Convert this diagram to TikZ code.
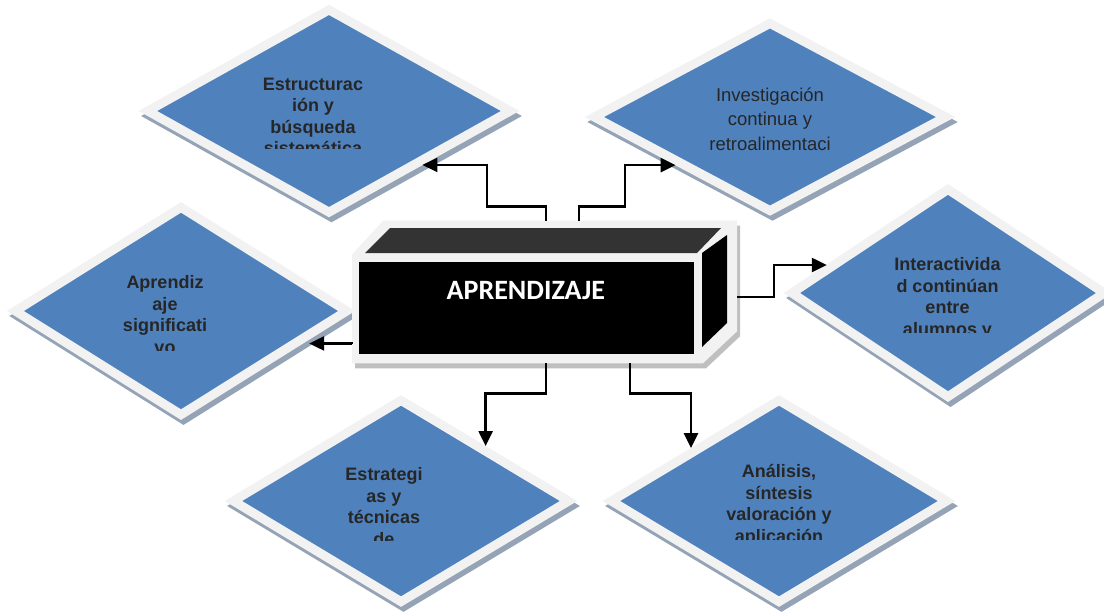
\documentclass[tikz,border=0pt]{standalone}
\usepackage{fontspec}
\setmainfont{Liberation Sans}
\newfontfamily\calibri{Carlito}
\usetikzlibrary{shapes.geometric, arrows.meta}

\definecolor{boxblue}{HTML}{4F81BD}
\definecolor{rimgray}{HTML}{F2F2F2}
\definecolor{rimshadow}{HTML}{95A3B6}
\definecolor{cubeshadow}{HTML}{BFBFBF}
\definecolor{topface}{HTML}{333333}
\definecolor{txtdark}{HTML}{262626}

\begin{document}
\begin{tikzpicture}[x=1pt, y=-1pt,
  idea/.style={shape=diamond, fill=boxblue, draw=rimgray, line width=9pt, inner sep=0pt, preaction={fill=rimshadow, draw=rimshadow, transform canvas={shift={(2.5pt,-5pt)}}}},
  ideatext/.style={font=\bfseries\fontsize{18}{21.5}\selectfont, align=center, text=txtdark, inner sep=0pt, anchor=north},
  link/.style={draw=black, line width=2.5pt, -{Triangle[length=15pt, width=14pt]}}]
\useasboundingbox (0,0) rectangle (1104,611);

% the six ideas
\node[idea, minimum width=366pt, minimum height=206pt] (est) at (329,111) {};
\node[idea, minimum width=355pt, minimum height=191pt] (inv) at (770,117) {};
\node[idea, minimum width=335pt, minimum height=211pt] (sig) at (181,311) {};
\node[idea, minimum width=316pt, minimum height=211pt] (int) at (948,293) {};
\node[idea, minimum width=339pt, minimum height=205pt] (stra) at (401,501) {};
\node[idea, minimum width=339pt, minimum height=205pt] (ana) at (779,501) {};

\begin{scope}
\clip (150,60) rectangle (480,148);
\node[ideatext] (est-t) at (313,77.7) {Estructurac\\ión y\\búsqueda\\sistemática};
\end{scope}
\node[ideatext, font=\fontsize{18.5}{24.6}\selectfont] (inv-t) at (770,87.4) {Investigación\\continua y\\retroalimentaci};
\begin{scope}
\clip (0,260) rectangle (340,350.7);
\node[ideatext] (sig-t) at (165,275.3) {Aprendiz\\aje\\significati\\vo};
\end{scope}
\begin{scope}
\clip (800,240) rectangle (1104,332.7);
\node[ideatext] (int-t) at (947.5,257.7) {Interactivida\\d continúan\\entre\\alumnos y};
\end{scope}
\begin{scope}
\clip (240,450) rectangle (560,540);
\node[ideatext] (stra-t) at (384,467.7) {Estrategi\\as y\\técnicas\\de};
\end{scope}
\begin{scope}
\clip (620,450) rectangle (940,539.3);
\node[ideatext] (ana-t) at (779,464.4) {Análisis,\\síntesis\\valoración y\\aplicación};
\end{scope}

% the block in the middle
\node[minimum width=385pt, minimum height=142.6pt, inner sep=0pt, outer sep=0pt] (cube) at (544.5,292) {};
\fill[rimgray, preaction={fill=cubeshadow, transform canvas={shift={(3pt,-5pt)}}}] ([yshift=-34pt]cube.north west) -- ([xshift=31pt]cube.north west) -- (cube.north east) -- ([yshift=32pt]cube.south east) -- ([xshift=-34pt]cube.south east) -- (cube.south west) -- cycle;
\fill[topface] (365,253) -- (697,253) -- (721,228) -- (390,228) -- cycle;
\fill[black] (702,253) -- (727,235) -- (727,323) -- (702,347) -- cycle;
\node[fill=black, minimum width=335pt, minimum height=92pt, inner sep=0pt] (box) at (526.5,308) {};
\node[font=\calibri\bfseries\fontsize{28}{30}\selectfont, text=white, anchor=base, inner sep=0pt] (lbl) at (525.8,299.3) {APRENDIZAJE};

% links
\draw[link] ([xshift=1.5pt]cube.north) -- ++(0,-14) -- ++(-59,0) |- (est.-30);
\draw[link] ([xshift=34.5pt]cube.north) -- ++(0,-14) -- ++(46,0) |- (inv.207);
\draw[link] ([yshift=-5pt]cube.east) -- ++(37,0) |- (int.167);
\draw[link, shorten >=7pt] ([yshift=-52pt]cube.west) |- (sig.-15);
\draw[link] ([xshift=1.5pt]cube.south) -- ++(0,30) -| (stra.33);
\draw[link] ([xshift=85.5pt]cube.south) -- ++(0,30) -| (ana.149);
\end{tikzpicture}
\end{document}
